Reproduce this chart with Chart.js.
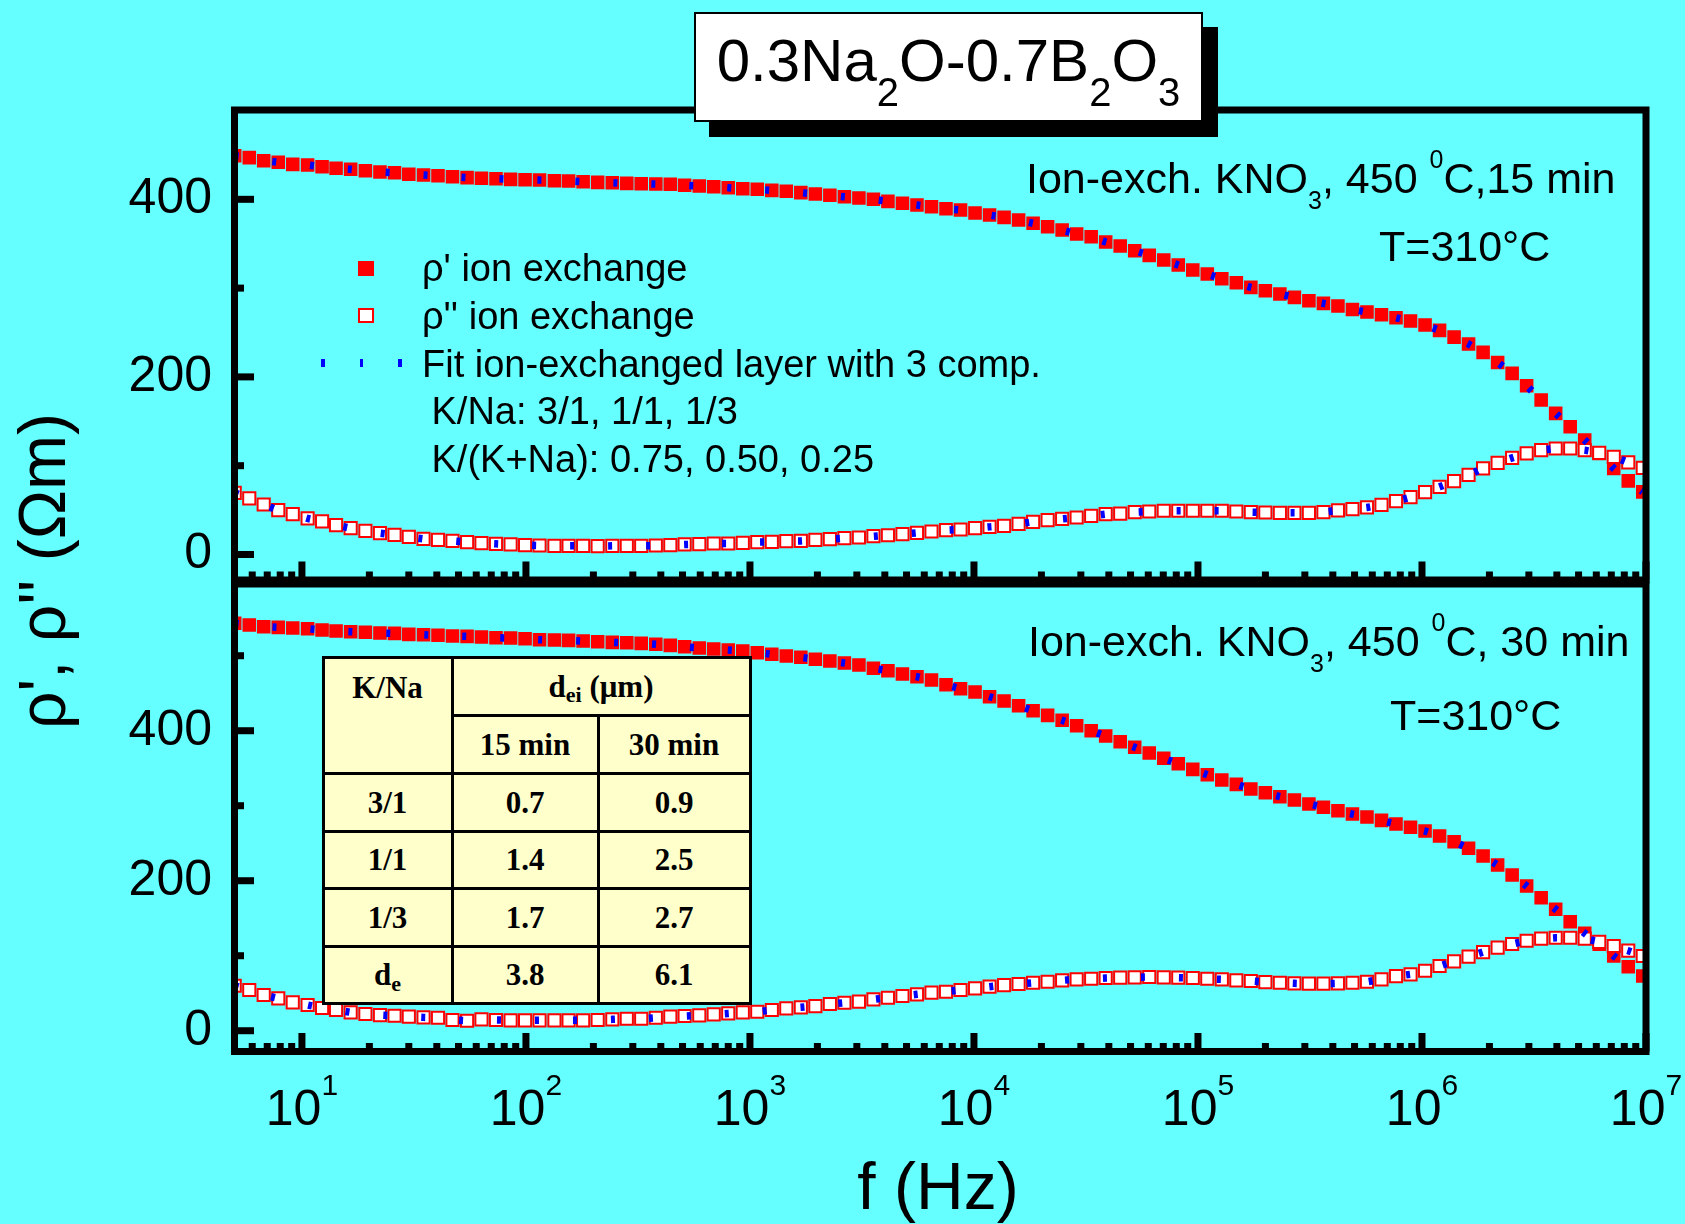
<!DOCTYPE html>
<html>
<head>
<meta charset="utf-8">
<title>0.3Na2O-0.7B2O3 resistivity spectra</title>
<script src="https://cdn.jsdelivr.net/npm/chart.js@4.4.1/dist/chart.umd.min.js"></script>
<style>
  html, body { margin: 0; padding: 0; background: #66ffff; }
  body { width: 1685px; height: 1224px; position: relative; overflow: hidden;
         font-family: "Liberation Sans", Arial, sans-serif; color: #000; }
  #c { position: absolute; left: 0; top: 0; }
  .txt { position: absolute; white-space: nowrap; line-height: 1; }
  .lo, .hi { position: relative; }
  .box { position: absolute; }
  #tbl { position: absolute; left: 321.5px; top: 655.5px; width: 430px; height: 349px;
         box-sizing: border-box; background: #000; padding: 3px; display: grid; gap: 3px;
         grid-template-columns: 126px 143px 149px;
         grid-template-rows: 55px 55px 55px 54px 55px 54px;
         font: bold 31px "Liberation Serif", "Times New Roman", serif; line-height: 1; }
  #tbl div { background: #ffffcc; display: flex; align-items: center; justify-content: center; }
</style>
</head>
<body>
<canvas id="c" width="1685" height="1224"></canvas>

<!-- title -->
<div class="box" style="left:709px;top:27px;width:509px;height:110px;background:#000"></div>
<div class="box" style="left:694px;top:12px;width:509px;height:110px;box-sizing:border-box;border:2px solid #000;background:#fff"></div>
<div class="txt" style="left:694px;width:509px;text-align:center;top:31px;font-size:60px">0.3Na<span class="lo" style="font-size:40px;top:25px">2</span>O-0.7B<span class="lo" style="font-size:40px;top:25px">2</span>O<span class="lo" style="font-size:40px;top:25px">3</span></div>

<!-- annotations -->
<div class="txt" style="left:1026px;top:157px;font-size:43px">Ion-exch. KNO<span class="lo" style="font-size:25px;top:16px">3</span>, 450 <span class="hi" style="font-size:25px;top:-25px">0</span>C,15 min</div>
<div class="txt" style="left:1379px;top:225px;font-size:43px">T=310°C</div>
<div class="txt" style="left:1028px;top:620px;font-size:43px">Ion-exch. KNO<span class="lo" style="font-size:25px;top:16px">3</span>, 450 <span class="hi" style="font-size:25px;top:-25px">0</span>C, 30 min</div>
<div class="txt" style="left:1390px;top:693.5px;font-size:43px">T=310°C</div>

<!-- legend -->
<div class="box" style="left:358px;top:260.5px;width:16px;height:15px;background:#ff0000"></div>
<div class="box" style="left:358px;top:308px;width:16px;height:15px;box-sizing:border-box;border:2px solid #ff0000;background:#fff"></div>
<div class="box" style="left:321px;top:359.3px;width:3.6px;height:8px;background:#0000ff"></div>
<div class="box" style="left:359.5px;top:359.3px;width:3.6px;height:8px;background:#0000ff"></div>
<div class="box" style="left:398px;top:359.3px;width:3.6px;height:8px;background:#0000ff"></div>
<div class="txt" style="left:422px;top:248.5px;font-size:38px">ρ' ion exchange</div>
<div class="txt" style="left:422px;top:297px;font-size:38px">ρ'' ion exchange</div>
<div class="txt" style="left:422px;top:344.5px;font-size:38px">Fit ion-exchanged layer with 3 comp.</div>
<div class="txt" style="left:431.5px;top:392px;font-size:38px">K/Na: 3/1, 1/1, 1/3</div>
<div class="txt" style="left:431.5px;top:439.5px;font-size:38px">K/(K+Na): 0.75, 0.50, 0.25</div>

<!-- inset table -->
<div id="tbl">
  <div style="grid-row:1 / span 2;align-items:flex-start;padding-top:13.5px">K/Na</div>
  <div style="grid-column:2 / span 2">d<span class="lo" style="font-size:22px;top:9px">ei</span>&nbsp;(μm)</div>
  <div>15 min</div><div>30 min</div>
  <div>3/1</div><div>0.7</div><div>0.9</div>
  <div>1/1</div><div>1.4</div><div>2.5</div>
  <div>1/3</div><div>1.7</div><div>2.7</div>
  <div>d<span class="lo" style="font-size:22px;top:9px">e</span></div><div>3.8</div><div>6.1</div>
</div>

<!-- axis titles -->
<div class="txt" style="left:-158px;top:538px;width:400px;height:66px;font-size:66px;text-align:center;transform:rotate(-90deg)">ρ', ρ'' (Ωm)</div>
<div class="txt" style="left:738px;top:1153px;width:400px;font-size:66px;text-align:center">f (Hz)</div>

<script>
// measurement frequencies (Hz)
const freqHz = [5.01, 5.82, 6.75, 7.84, 9.10, 10.6, 12.3, 14.2, 16.5, 19.2,
  22.3, 25.9, 30.0, 34.9, 40.5, 47.0, 54.6, 63.3, 73.5, 85.4,
  99.1, 115, 134, 155, 180, 209, 243, 282, 327, 380,
  441, 511, 594, 689, 800, 929, 1078, 1252, 1453, 1687,
  1959, 2274, 2640, 3065, 3558, 4130, 4795, 5567, 6462, 7502,
  8710, 10111, 11738, 13627, 15820, 18365, 21320, 24751, 28734, 33358,
  38726, 44957, 52192, 60591, 70341, 81658, 94801, 110055, 127765, 148325,
  172187, 199897, 232060, 269400, 312752, 363078, 421500, 489329, 568067, 659477,
  765597, 888794, 1.032e6, 1.198e6, 1.391e6, 1.614e6, 1.874e6, 2.176e6, 2.526e6, 2.932e6,
  3.404e6, 3.952e6, 4.588e6, 5.326e6, 6.183e6, 7.178e6, 8.333e6, 9.674e6];

// 15 min ion exchange (top panel)
const rhoReal15 = [449, 447, 443.5, 441.7, 439.4, 438.6, 436.7, 434.9, 433.8, 432.2,
  430.8, 430, 428.2, 427.4, 426.6, 425.5, 424.4, 423.7, 423.2, 422.5,
  422.1, 421.7, 421, 420.6, 419.8, 419.1, 418.7, 418, 417.6, 417.2,
  416.9, 415.8, 415, 414.2, 413.1, 412, 411.3, 410.1, 409, 407.5,
  406, 404.5, 402.9, 401.5, 400, 397.7, 395.5, 393.6, 391.7, 389.4,
  388, 384.6, 382.3, 379.7, 376.7, 373, 369.1, 365.4, 360.9, 357.9,
  351.9, 347.4, 342.1, 336.9, 331.6, 326, 320.3, 315.8, 310.5, 306,
  300.8, 297, 293.3, 289.6, 285.7, 282.8, 279.8, 276, 273, 270,
  266.6, 262.9, 258.4, 252.4, 244.8, 237, 227.6, 216.3, 204, 190,
  173.9, 158.9, 143.8, 128.8, 113.8, 96.9, 82.9, 70.5];
const rhoImag15 = [69.4, 63.1, 56.3, 49.9, 45.4, 40.6, 37.2, 33, 29.6, 26.6,
  24, 22.1, 19.8, 17.6, 16.5, 15.3, 13.9, 12.7, 12, 11.3,
  10.5, 10.1, 9.7, 9.7, 9.7, 9.4, 9.7, 9.7, 9.7, 10.1,
  10.5, 11.3, 11.6, 12.4, 12.4, 13.1, 13.9, 14.2, 15, 15.3,
  16.5, 17.2, 18.4, 19.1, 20.6, 21.7, 22.9, 24.4, 25.9, 27.4,
  28.1, 29.6, 31.1, 32.3, 34.5, 36.8, 38.6, 40.1, 41.6, 43.5,
  45.4, 46.1, 47.7, 48.4, 49.2, 49.2, 49.2, 49.2, 49.2, 48.4,
  47.7, 47.3, 46.9, 46.9, 46.9, 47.7, 49.6, 51, 53, 55.9,
  60.1, 64.6, 70.2, 76.2, 82.6, 89.7, 96.9, 103.2, 108.8, 113.8,
  117.5, 119.4, 119.4, 117.5, 114.5, 110, 103.7, 97.6];

// 30 min ion exchange (bottom panel)
const rhoReal30 = [543.2, 540.9, 538.7, 537.8, 536.9, 536, 534.3, 532.9, 532, 531.2,
  530.3, 529.8, 528.5, 528, 527.2, 526.3, 525.8, 524.9, 524, 523.6,
  522.7, 521.3, 520.9, 520.5, 519.6, 518.7, 517.8, 517.3, 516.5, 515.2,
  513.8, 512, 510.3, 508.9, 507.6, 506.3, 504, 501.9, 499.6, 497.9,
  495.2, 492.9, 490.3, 487.6, 483.2, 480, 475.6, 472, 467.6, 461.3,
  456, 451.6, 445.3, 439.6, 433.3, 426.7, 420.5, 413.9, 406.7, 400,
  392.9, 385.3, 377.9, 370.3, 363.2, 356, 348.5, 341.3, 334.3, 328.5,
  322.3, 317.3, 312, 307.6, 302.3, 297.9, 293.3, 288.9, 284.9, 280.5,
  275.6, 271.2, 266.3, 259.6, 252, 243.2, 232.9, 220.9, 207.6, 192.9,
  177.3, 161.9, 145.3, 129.9, 115.2, 99.6, 85.3, 72.9];
const rhoImag30 = [60, 54.3, 47.6, 43.1, 37.8, 34.3, 30.3, 27.6, 24.5, 22.3,
  20.9, 20, 18.7, 17.8, 17.3, 14.3, 13.3, 15.2, 14.3, 13.9,
  13.9, 13.9, 13.9, 13.9, 13.9, 14.3, 15.2, 16, 16, 17.3,
  18.7, 19.6, 20.4, 21.8, 23.1, 24.5, 25.3, 27.6, 29.8, 31.2,
  32.9, 35.6, 37.3, 38.7, 41.8, 44, 46.3, 48.5, 50.7, 52,
  54.3, 56.5, 58.7, 60.9, 62.3, 64, 65.3, 67.2, 68.5, 69.3,
  70.3, 70.7, 71.2, 71.6, 71.2, 70.7, 70.3, 69.3, 68.5, 67.2,
  66.3, 64.9, 64, 63.2, 62.7, 62.7, 63.2, 64, 65.3, 68.5,
  72.9, 75.2, 80, 86.3, 92.5, 98.7, 104.9, 110.7, 115.6, 120,
  122.7, 124, 124, 122.7, 118.5, 113, 106.7, 99.6];

// the 3-component fit lies on top of the measured points
const fitReal15 = rhoReal15, fitImag15 = rhoImag15;
const fitReal30 = rhoReal30, fitImag30 = rhoImag30;

const yTickValues = [0, 200, 400];
const xDecades = [1, 2, 3, 4, 5, 6, 7];

const FONT = '"Liberation Sans", Arial, sans-serif';

function pts(ys) {
  return freqHz.map((f, i) => ({ x: f, y: ys[i] }));
}

function fitSet(ys, axis) {
  return {
    data: pts(ys), yAxisID: axis, order: 0,
    borderColor: '#0000ff', borderWidth: 7.5, borderDash: [4, 34],
    pointRadius: 0, tension: 0, fill: false
  };
}

function openSet(ys, axis) {
  return {
    data: pts(ys), yAxisID: axis, order: 1, showLine: false,
    pointStyle: 'rect', pointRadius: 8.6, pointBorderWidth: 2,
    pointBorderColor: '#ff0000', pointBackgroundColor: '#ffffff'
  };
}

function filledSet(ys, axis) {
  return {
    data: pts(ys), yAxisID: axis, order: 2, showLine: false,
    pointStyle: 'rect', pointRadius: 9.6, pointBorderWidth: 0,
    pointBorderColor: '#ff0000', pointBackgroundColor: '#ff0000'
  };
}

// frame, inward ticks and 10^n labels
const axesDeco = {
  id: 'axesDeco',
  afterDatasetsDraw(chart) {
    const ctx = chart.ctx;
    const xs = chart.scales.x;
    const left = chart.chartArea.left, right = chart.chartArea.right;
    ctx.save();
    ctx.fillStyle = '#000';
    ctx.strokeStyle = '#000';

    const xTicks = [];
    for (let n = 0; n <= 7; n++) {
      for (let k = 1; k <= 9; k++) {
        const v = k * Math.pow(10, n);
        if (v >= xs.min && v <= xs.max) xTicks.push({ v, major: k === 1 });
      }
    }

    // the panel whose box sits higher gets the trimmed bottom edge
    const ids = ['yTop', 'yBot'].sort((a, b) => chart.scales[a].top - chart.scales[b].top);
    ids.forEach((id, idx) => {
      const ys = chart.scales[id];
      const top = idx === 0 ? ys.top : ys.top + 2;
      const bottom = idx === 0 ? ys.bottom - 2 : ys.bottom;
      ctx.lineWidth = 7;
      ctx.strokeRect(left, top, right - left, bottom - top);

      for (let v = 0; v <= ys.max - 10; v += 100) {
        const py = ys.getPixelForValue(v);
        const len = v % 200 === 0 ? 19.5 : 9.5;
        ctx.fillRect(left, py - 3.5, len, 7);
      }
      xTicks.forEach(t => {
        const px = xs.getPixelForValue(t.v);
        const len = t.major ? 18.5 : 8.5;
        ctx.fillRect(px - 3.5, bottom - len, 7, len);
      });
    });

    // decade labels under the lower panel
    ctx.textBaseline = 'alphabetic';
    ctx.textAlign = 'left';
    xDecades.forEach(n => {
      const px = xs.getPixelForValue(Math.pow(10, n));
      ctx.font = '50px ' + FONT;
      const wBase = ctx.measureText('10').width;
      ctx.font = '30px ' + FONT;
      const wExp = ctx.measureText(String(n)).width;
      const x0 = px - (wBase + wExp) / 2;
      ctx.font = '50px ' + FONT;
      ctx.fillText('10', x0, 1125);
      ctx.font = '30px ' + FONT;
      ctx.fillText(String(n), x0 + wBase, 1095);
    });
    ctx.restore();
  }
};

function yAxis(min, max, weight) {
  return {
    type: 'linear', position: 'left', stack: 'panels', stackWeight: weight,
    min: min, max: max,
    grid: { display: false, drawTicks: false },
    border: { display: false },
    afterBuildTicks: s => { s.ticks = yTickValues.filter(v => v >= s.min && v <= s.max).map(v => ({ value: v })); },
    afterFit: s => { s.width = 234.5; },
    ticks: { color: '#000', padding: 22.5, font: { family: FONT, size: 50 } }
  };
}

new Chart(document.getElementById('c'), {
  type: 'line',
  data: {
    datasets: [
      fitSet(fitReal15, 'yTop'), fitSet(fitImag15, 'yTop'),
      fitSet(fitReal30, 'yBot'), fitSet(fitImag30, 'yBot'),
      openSet(rhoImag15, 'yTop'), openSet(rhoImag30, 'yBot'),
      filledSet(rhoReal15, 'yTop'), filledSet(rhoReal30, 'yBot')
    ]
  },
  options: {
    responsive: false,
    devicePixelRatio: 1,
    animation: false,
    layout: { padding: { left: 0, top: 110, right: 39, bottom: 172.5 } },
    plugins: { legend: { display: false }, tooltip: { enabled: false } },
    scales: {
      x: { type: 'logarithmic', min: 5, max: 1e7, display: false },
      // stacked left axes are laid out bottom-up, so the lower panel comes first
      yBot: yAxis(-27.7, 598.3, 469.5),
      yTop: yAxis(-31, 500.6, 472)
    }
  },
  plugins: [axesDeco]
});
</script>
</body>
</html>
